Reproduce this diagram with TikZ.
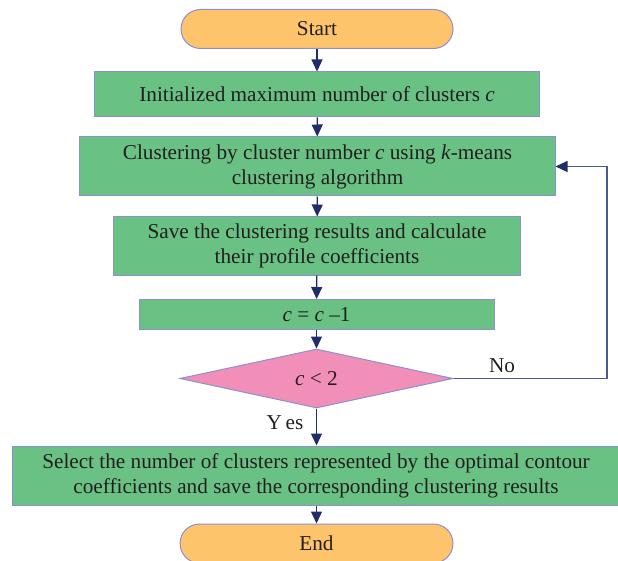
\documentclass[tikz,border=0pt]{standalone}
\usepackage{fontspec}
\setmainfont{Liberation Serif}
\usetikzlibrary{shapes.geometric,arrows.meta}
\definecolor{orfill}{HTML}{FDC46B}
\definecolor{grfill}{HTML}{6AC184}
\definecolor{pkfill}{HTML}{F28FB8}
\definecolor{bord}{HTML}{8C90D2}
\definecolor{navy}{HTML}{1F2D6B}
\definecolor{fbline}{HTML}{4A5A90}
\definecolor{txt}{HTML}{231F20}
\tikzset{
  base/.style={draw=bord, line width=1bp, inner sep=0pt, align=center, text=txt, font=\fontsize{21.3}{25}\selectfont},
  term/.style={base, fill=orfill, rounded corners=19.5bp},
  proc/.style={base, fill=grfill},
  dec/.style={base, fill=pkfill, diamond},
  arr/.style={draw=navy, line width=1.3bp, -{Triangle[length=12bp,width=11bp,color=navy]}},
  lbl/.style={text=txt, font=\fontsize{21.3}{25}\selectfont, inner sep=0pt}
}
\begin{document}
\begin{tikzpicture}[x=1bp,y=-1bp]
\useasboundingbox (0,0) rectangle (618,561);
\clip (0,0) rectangle (618,561);
\node[term, minimum width=272bp, minimum height=39bp] (start) at (317,29) {Start};
\node[proc, minimum width=444bp, minimum height=45bp] (b1) at (317,94.5) {Initialized maximum number of clusters \textit{c}};
\node[proc, minimum width=475bp, minimum height=59bp] (b2) at (317.5,166.5) {Clustering by cluster number \textit{c} using \textit{k}-means\\clustering algorithm};
\node[proc, minimum width=406bp, minimum height=58bp] (b3) at (317,246) {Save the clustering results and calculate\\their profile coefficients};
\node[proc, minimum width=355bp, minimum height=30bp] (b4) at (316.5,314.5) {\textit{c} = \textit{c} \textendash1};
\node[dec, minimum width=273bp, minimum height=59bp] (d) at (316.5,378.5) {\textit{c} < 2};
\node[proc, minimum width=606bp, minimum height=59bp] (b5) at (316,475.5) {Select the number of clusters represented by the optimal contour\\coefficients and save the corresponding clustering results};
\node[term, minimum width=273bp, minimum height=39bp] (end) at (316.5,543.5) {End};
\coordinate (fb) at (607,378.5);
\draw[arr] (start) -- (b1);
\draw[arr] (b1) -- (b2);
\draw[arr] (b2) -- (b3);
\draw[arr] (b3) -- (b4);
\draw[arr] (b4) -- (d);
\draw[arr] (d.south) -- (d.south |- b5.north);
\draw[arr] (b5.south -| end.north) -- (end.north);
\draw[arr, draw=fbline, line width=1.2bp] (d.east) -- (fb) |- (b2.east);
\node[lbl] (no) at (502,366) {No};
\node[lbl] (yes) at (285,423) {Y\,es};
\end{tikzpicture}
\end{document}
